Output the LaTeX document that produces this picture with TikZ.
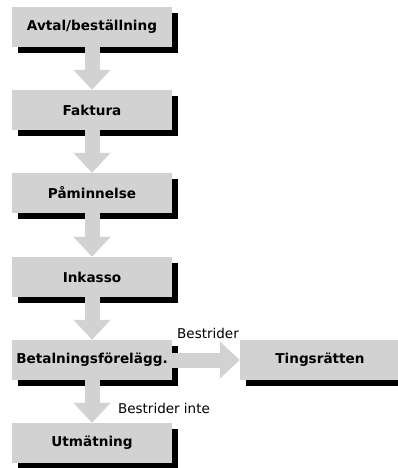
\documentclass[tikz,border=0pt]{standalone}
\usepackage{fontspec}
\setmainfont{DejaVu Sans}
\usetikzlibrary{arrows.meta,shadows}

\begin{document}
\begin{tikzpicture}[
  x=1pt, y=-1pt,
  stage/.style={rectangle, fill=gray!35, minimum width=160pt, minimum height=40pt, inner sep=0pt,
    font=\bfseries\fontsize{13.6}{15}\selectfont,
    drop shadow={shadow xshift=6pt, shadow yshift=-6pt, fill=black, opacity=1}},
  flow/.style={line width=15pt, draw=gray!35, -{Triangle[width=36pt,length=20pt]}},
  note/.style={font=\fontsize{13.5}{15}\selectfont, inner sep=0pt},
  ]
 \useasboundingbox (0,0) rectangle (398,468);
 % the chain of steps
 \node [stage] (avtal)   at (92,27)  {Avtal/beställning};
 \node [stage] (faktura) at (92,110) {Faktura};
 \node [stage] (paminn)  at (92,193) {Påminnelse};
 \node [stage] (inkasso) at (92,277) {Inkasso};
 \node [stage] (betal)   at (92,360) {Betalningsförelägg.};
 \node [stage] (utmat)   at (92,443) {Utmätning};
 \node [stage] (tings)   at (320,360) {Tingsrätten};
 % arrows
 \draw [flow] (avtal.south) -- (faktura.north);
 \draw [flow] (faktura.south) -- (paminn.north);
 \draw [flow] (paminn.south) -- (inkasso.north);
 \draw [flow] (inkasso.south) -- (betal.north);
 \draw [flow] (betal.south) -- (utmat.north);
 \draw [flow] (betal.east) -- (tings.west);
 \node [note] (bestr) at (208,333) {Bestrider};
 \node [note] (bestrinte) at (164,408) {Bestrider inte};
\end{tikzpicture}
\end{document}
